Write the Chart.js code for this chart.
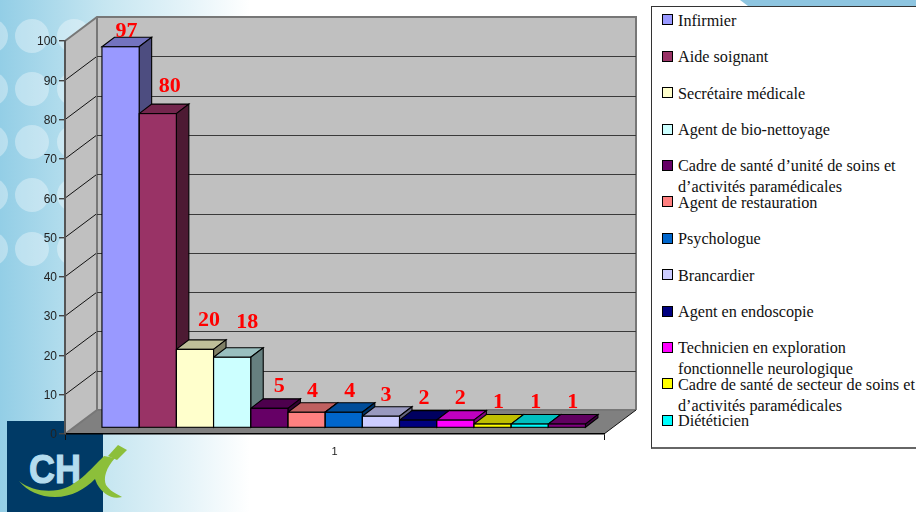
<!DOCTYPE html>
<html lang="fr">
<head>
<meta charset="utf-8">
<title>Effectifs par métier</title>
<script src="https://cdn.jsdelivr.net/npm/chart.js@4"></script>
<style>
  html, body { margin: 0; padding: 0; background: #fff; }
  #page { position: relative; width: 916px; height: 512px; overflow: hidden;
          background: linear-gradient(90deg, #93cee6 0, #c6e6f1 105px, #e6f4f9 190px, #fff 250px); }
  #decor, #chart { position: absolute; left: 0; top: 0; }
  #legend { position: absolute; left: 651px; top: 6px; width: 270px; height: 440px;
            background: #fff; border: 1px solid #333; border-bottom: 2px solid #666; box-sizing: content-box;
            font-family: "Liberation Serif", serif; font-size: 16.2px; line-height: 21px; color: #111; }
  .item { position: absolute; left: 26px; width: 240px; }
  .swatch { position: absolute; left: 10px; width: 9px; height: 9px; border: 1px solid #000; }
</style>
</head>
<body>
<div id="page">
  <svg id="decor" width="916" height="512" xmlns="http://www.w3.org/2000/svg">
    <g id="dots" fill="#fff" fill-opacity="0.34"></g>
    <polygon points="740,0 916,0 916,6 748,6" fill="#8ec5e0"/>
    <rect x="7" y="421" width="96" height="91" fill="#003a66"/>
    <text x="29" y="483" font-family="Liberation Sans, sans-serif" font-weight="700" font-size="41"
          textLength="52" lengthAdjust="spacingAndGlyphs" fill="#b4dcee" stroke="#b4dcee" stroke-width="1.2">CH</text>
    <path d="M19 481 C30 490 45 492 58 490 C76 487 90 470 104 456 L115 458 C106 468 103 478 106 485 C110 491 115 493 122 497 C112 500 103 494 97 484 L95 479 C85 489 72 497 55 497 C40 497 27 491 19 481 Z" fill="#8cbf3a"/>
    <polygon points="108,456 118,445 127,450 117,460" fill="#8cbf3a"/>
  </svg>
  <canvas id="chart" width="916" height="512"></canvas>
  <div id="legend"></div>
</div>
<script>
// Effectifs par métier : une seule catégorie, une série par profession.
const categories = ['1'];
const professions = [
  'Infirmier', 'Aide soignant', 'Secrétaire médicale', 'Agent de bio-nettoyage',
  'Cadre de santé d’unité de soins et d’activités paramédicales', 'Agent de restauration',
  'Psychologue', 'Brancardier', 'Agent en endoscopie',
  'Technicien en exploration fonctionnelle neurologique',
  'Cadre de santé de secteur de soins et d’activités paramédicales', 'Diététicien', 'Cadre'
];
const effectifs = [97, 80, 20, 18, 5, 4, 4, 3, 2, 2, 1, 1, 1];
const couleurs = ['#9999ff', '#993366', '#ffffcc', '#ccffff', '#660066', '#ff8080', '#0066cc',
                  '#ccccff', '#000080', '#ff00ff', '#ffff00', '#00ffff', '#800080'];
const yTicks = [0, 10, 20, 30, 40, 50, 60, 70, 80, 90, 100];

// Décalages du plancher et de la profondeur de la perspective
const WALL_DX = 32, WALL_DY = 24;     // profondeur des murs
const BAR_DX = 9.2, BAR_DY = 6;       // retrait des barres par rapport à l'axe avant
const DEPTH_DX = 12.5, DEPTH_DY = 9.5; // profondeur d'une barre
const NB_LEGENDE = 12;                // entrées affichées dans le cadre

// Décalage fin des étiquettes de valeur au-dessus de chaque barre
const etiquetteDx = [6, 12, 14, 15, 10, 6, 6, 5, 6, 5, 6, 6, 6];
const etiquetteDy = [15, 27, 29, 35, 22, 21, 21, 21, 22, 22, 22, 22, 22];

function shade(hex, k) {
  const n = parseInt(hex.slice(1), 16);
  const c = [n >> 16, (n >> 8) & 255, n & 255].map(v => Math.round(v * k));
  return `rgb(${c[0]},${c[1]},${c[2]})`;
}

function poly(ctx, pts, fill, stroke, lw) {
  ctx.beginPath();
  pts.forEach((p, i) => i ? ctx.lineTo(p[0], p[1]) : ctx.moveTo(p[0], p[1]));
  ctx.closePath();
  if (fill) { ctx.fillStyle = fill; ctx.fill(); }
  if (stroke) { ctx.strokeStyle = stroke; ctx.lineWidth = lw; ctx.stroke(); }
}

// Murs, plancher et quadrillage dessinés à partir des échelles
const decor3d = {
  id: 'decor3d',
  beforeDraw(chart) {
    const { ctx, chartArea: a, scales: { y } } = chart;
    const l = a.left, r = a.right, t = a.top, b = a.bottom;
    const dx = WALL_DX, dy = WALL_DY;
    ctx.save();
    ctx.lineJoin = 'miter';
    poly(ctx, [[l, t], [l + dx, t - dy], [l + dx, b - dy], [l, b]], '#c0c0c0');
    poly(ctx, [[l + dx, t - dy], [r + dx, t - dy], [r + dx, b - dy], [l + dx, b - dy]], '#c0c0c0');
    poly(ctx, [[l, b], [l + dx, b - dy], [r + dx, b - dy], [r, b]], '#808080');
    yTicks.filter(v => v > 0 && v < 100).forEach(v => {
      const py = y.getPixelForValue(v);
      ctx.beginPath();
      ctx.moveTo(l, py); ctx.lineTo(l + dx, py - dy);
      ctx.strokeStyle = '#111'; ctx.lineWidth = 1; ctx.stroke();
    });
    ctx.beginPath();
    ctx.moveTo(l, t); ctx.lineTo(l + dx, t - dy); ctx.lineTo(r + dx, t - dy); ctx.lineTo(r + dx, b - dy);
    ctx.moveTo(l + dx, t - dy); ctx.lineTo(l + dx, b - dy); ctx.lineTo(l, b);
    ctx.moveTo(l + dx, b - dy); ctx.lineTo(r + dx, b - dy);
    ctx.strokeStyle = '#777'; ctx.lineWidth = 2; ctx.stroke();
    yTicks.filter(v => v > 0 && v < 100).forEach(v => {
      const py = Math.round(y.getPixelForValue(v) - dy) + 0.5;
      ctx.beginPath();
      ctx.moveTo(l + dx, py); ctx.lineTo(r + dx, py);
      ctx.strokeStyle = '#3a3a3a'; ctx.lineWidth = 1.2; ctx.stroke();
    });
    ctx.beginPath();
    ctx.moveTo(r, b); ctx.lineTo(r + dx, b - dy);
    ctx.strokeStyle = '#111'; ctx.lineWidth = 1; ctx.stroke();
    ctx.restore();
  },
  beforeDatasetsDraw(chart) {
    const { ctx } = chart;
    ctx.save();
    ctx.translate(BAR_DX, -BAR_DY);
    // Dessus et flancs d'abord, de gauche à droite ; les faces avant viennent de Chart.js
    effectifs.forEach((v, i) => {
      const bar = chart.getDatasetMeta(i).data[0];
      const { x, y, base, width } = bar.getProps(['x', 'y', 'base', 'width'], true);
      const c = couleurs[i];
      const x0 = x - width / 2, x1 = x + width / 2;
      const d = DEPTH_DX, e = DEPTH_DY;
      poly(ctx, [[x0, y], [x0 + d, y - e], [x1 + d, y - e], [x1, y]], shade(c, 0.75), '#000', 1.1);
      poly(ctx, [[x1, y], [x1 + d, y - e], [x1 + d, base - e], [x1, base]], shade(c, 0.5), '#000', 1.1);
    });
  },
  afterDatasetsDraw(chart) {
    const { ctx } = chart;
    // Contour de chaque face avant, centré sur l'arête pour que les petites barres restent lisibles
    effectifs.forEach((v, i) => {
      const bar = chart.getDatasetMeta(i).data[0];
      const { x, y, base, width } = bar.getProps(['x', 'y', 'base', 'width'], true);
      ctx.strokeStyle = '#000';
      ctx.lineWidth = 1.1;
      ctx.strokeRect(x - width / 2, y, width, base - y);
    });
    // Les étiquettes suivent la géométrie déjà décalée des barres
    ctx.font = 'bold 22px "Liberation Serif", serif';
    ctx.fillStyle = '#ff0000';
    ctx.textAlign = 'center';
    ctx.textBaseline = 'middle';
    effectifs.forEach((v, i) => {
      const bar = chart.getDatasetMeta(i).data[0];
      const p = bar.getProps(['x', 'y'], true);
      ctx.fillText(String(v), p.x + etiquetteDx[i], p.y - etiquetteDy[i]);
    });
    ctx.restore();
  }
};

new Chart(document.getElementById('chart'), {
  type: 'bar',
  plugins: [decor3d],
  data: {
    labels: categories,
    datasets: professions.map((nom, i) => ({
      label: nom,
      data: [effectifs[i]],
      backgroundColor: couleurs[i],
      borderWidth: 0,
      clip: false
    }))
  },
  options: {
    responsive: false,
    animation: false,
    layout: { padding: { left: 0, top: 41, right: 312, bottom: 54 } },
    plugins: { legend: { display: false }, title: { display: false }, tooltip: { enabled: false } },
    datasets: { bar: { categoryPercentage: 0.897, barPercentage: 1 } },
    scales: {
      x: {
        afterFit(s) { s.height = 24; },
        border: { color: '#000', width: 1.5 },
        grid: { drawOnChartArea: false, drawTicks: true, tickLength: 6, offset: true, color: '#111' },
        ticks: { color: '#222', font: { family: '"Liberation Sans", sans-serif', size: 11 }, padding: 5 }
      },
      y: {
        min: 0,
        max: 100,
        afterFit(s) { s.width = 65; },
        afterBuildTicks(s) { s.ticks = yTicks.map(value => ({ value })); },
        border: { color: '#555', width: 2 },
        grid: { drawOnChartArea: false, drawTicks: true, tickLength: 6, color: '#444', lineWidth: 1.4 },
        ticks: { color: '#222', font: { family: '"Liberation Sans", sans-serif', size: 12 }, padding: 2, labelOffset: 1 }
      }
    }
  }
});

// Rangées de pastilles claires du fond
const dots = document.getElementById('dots');
[-9, 32, 74].forEach(cx => [36, 89, 142, 195, 249].forEach(cy => {
  const c = document.createElementNS('http://www.w3.org/2000/svg', 'circle');
  c.setAttribute('cx', cx); c.setAttribute('cy', cy); c.setAttribute('r', 17);
  dots.appendChild(c);
}));

// Légende : les entrées sont espacées régulièrement dans le cadre
const legend = document.getElementById('legend');
professions.slice(0, NB_LEGENDE).forEach((nom, i) => {
  const cy = 12.8 + i * 36.4;
  const sw = document.createElement('span');
  sw.className = 'swatch';
  sw.style.top = (cy - 5.5) + 'px';
  sw.style.background = couleurs[i];
  legend.appendChild(sw);
  const t = document.createElement('div');
  t.className = 'item';
  t.style.top = (cy - 9) + 'px';
  t.textContent = nom;
  legend.appendChild(t);
});
</script>
</body>
</html>
